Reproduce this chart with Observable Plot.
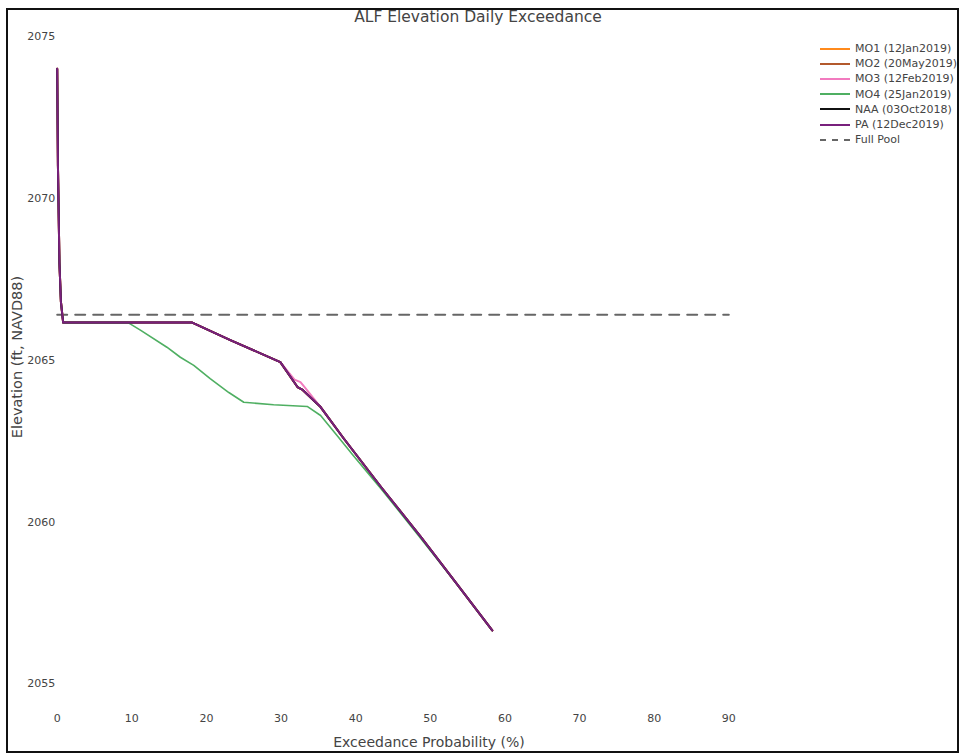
<!DOCTYPE html>
<html>
<head>
<meta charset="utf-8">
<script src="https://cdn.jsdelivr.net/npm/d3@7"></script>
<script src="https://cdn.jsdelivr.net/npm/@observablehq/plot@0.6"></script>
<style>
  html, body { margin: 0; padding: 0; background: #fff; }
  #wrap { position: relative; width: 962px; height: 754px; overflow: hidden; font-family: "DejaVu Sans", Verdana, sans-serif; color: #444; }
  #chart { position: absolute; left: 0; top: 0; }
  #title { position: absolute; left: 0; width: 956px; top: 8px; text-align: center; font-size: 15.5px; color: #444; }
  #xlabel { position: absolute; left: 229px; width: 400px; top: 734px; text-align: center; font-size: 14px; color: #444; }
  #ylabel { position: absolute; left: 17px; top: 357px; transform: translate(-50%, -50%) rotate(-90deg); white-space: nowrap; font-size: 14.5px; color: #444; }
  #legend { position: absolute; left: 819px; top: 41px; font-size: 11px; color: #444; }
  #legend .row { height: 15.2px; display: flex; align-items: center; white-space: nowrap; }
  #legend svg { margin-right: 4px; }
  #frame { position: absolute; left: 6px; top: 8px; width: 953px; height: 745px; border: 2px solid #111; box-sizing: border-box; pointer-events: none; }
</style>
</head>
<body>
<div id="wrap">
  <div id="chart"></div>
  <div id="title">ALF Elevation Daily Exceedance</div>
  <div id="xlabel">Exceedance Probability (%)</div>
  <div id="ylabel">Elevation (ft, NAVD88)</div>
  <div id="legend"></div>
  <div id="frame"></div>
</div>
<script>
// ---- data ----
const xTicks = [0, 10, 20, 30, 40, 50, 60, 70, 80, 90];
const yTicks = [2055, 2060, 2065, 2070, 2075];

const seriesNames = ["MO1 (12Jan2019)", "MO2 (20May2019)", "MO3 (12Feb2019)", "MO4 (25Jan2019)", "NAA (03Oct2018)", "PA (12Dec2019)"];
const seriesColors = ["#ff8a1c", "#b3592c", "#f27bbf", "#4faf62", "#111111", "#78207c"];

const mo1X = [0, 0.1, 0.3, 0.5, 0.8, 9.5, 18.1, 23.2, 29.9, 32.2, 32.9, 35.3, 38.4, 43.5, 48.7, 53.5, 58.3];
const mo1Y = [2074.0, 2071.0, 2068.0, 2066.8, 2066.16, 2066.16, 2066.16, 2065.62, 2064.94, 2064.17, 2064.08, 2063.55, 2062.58, 2061.05, 2059.55, 2058.1, 2056.65];
const mo2X = [0, 0.1, 0.3, 0.5, 0.8, 9.5, 18.1, 23.2, 29.9, 32.2, 32.9, 35.3, 38.4, 43.5, 48.7, 53.5, 58.3];
const mo2Y = [2074.0, 2071.0, 2068.0, 2066.8, 2066.16, 2066.16, 2066.16, 2065.62, 2064.94, 2064.17, 2064.08, 2063.55, 2062.58, 2061.05, 2059.55, 2058.1, 2056.65];
const mo3X = [0, 0.1, 0.3, 0.5, 0.8, 9.5, 18.1, 23.2, 29.9, 31.8, 32.6, 33.1, 35.3, 38.4, 43.5, 48.7, 53.5, 58.3];
const mo3Y = [2074.0, 2071.0, 2068.0, 2066.8, 2066.16, 2066.16, 2066.16, 2065.62, 2064.94, 2064.4, 2064.32, 2064.18, 2063.55, 2062.58, 2061.05, 2059.55, 2058.1, 2056.65];
const mo4X = [0, 0.1, 0.3, 0.5, 0.8, 9.5, 11.2, 14.7, 16.5, 18.3, 20.5, 23.0, 25.0, 29.0, 33.5, 35.3, 37.5, 39.7, 43.5, 48.7, 53.5, 58.3];
const mo4Y = [2074.0, 2071.0, 2068.0, 2066.8, 2066.16, 2066.16, 2065.92, 2065.4, 2065.09, 2064.84, 2064.43, 2064.0, 2063.7, 2063.62, 2063.57, 2063.29, 2062.67, 2062.05, 2061.0, 2059.5, 2058.1, 2056.65];
const naaX = [0, 0.1, 0.3, 0.5, 0.8, 9.5, 18.1, 23.2, 29.9, 32.2, 32.9, 35.3, 38.4, 43.5, 48.7, 53.5, 58.3];
const naaY = [2074.0, 2071.0, 2068.0, 2066.8, 2066.16, 2066.16, 2066.16, 2065.62, 2064.94, 2064.17, 2064.08, 2063.55, 2062.58, 2061.05, 2059.55, 2058.1, 2056.65];
const paX = [0, 0.1, 0.3, 0.5, 0.8, 9.5, 18.1, 23.2, 29.9, 32.2, 32.9, 35.3, 38.4, 43.5, 48.7, 53.5, 58.3];
const paY = [2074.0, 2071.0, 2068.0, 2066.8, 2066.16, 2066.16, 2066.16, 2065.62, 2064.94, 2064.17, 2064.08, 2063.55, 2062.58, 2061.05, 2059.55, 2058.1, 2056.65];

const fullPoolName = "Full Pool";
const fullPoolX = [0, 90];
const fullPoolY = [2066.4, 2066.4];

// ---- build tables ----
const seriesX = [mo1X, mo2X, mo3X, mo4X, naaX, paX];
const seriesY = [mo1Y, mo2Y, mo3Y, mo4Y, naaY, paY];
const rows = [];
seriesNames.forEach((name, i) => {
  seriesX[i].forEach((x, j) => rows.push({series: name, x, y: seriesY[i][j]}));
});
const poolRows = fullPoolX.map((x, j) => ({x, y: fullPoolY[j]}));

const lineMarks = seriesNames.map((name, i) =>
  Plot.line(rows.filter(d => d.series === name), {
    x: "x", y: "y", stroke: seriesColors[i],
    strokeWidth: name.startsWith("MO4") ? 1.6 : 2, curve: "linear"
  })
);

const chart = Plot.plot({
  width: 962,
  height: 754,
  marginLeft: 56.7,
  marginRight: 233.7,
  marginTop: 19.8,
  marginBottom: 54.5,
  style: {fontFamily: "DejaVu Sans, Verdana, sans-serif", fontSize: "11px", color: "#444", background: "transparent"},
  x: {domain: [0, 90], label: null},
  y: {domain: [2054.5, 2075.5], label: null},
  marks: [
    Plot.axisX({ticks: xTicks, tickSize: 0, tickPadding: 14, label: null, tickFormat: d => String(d)}),
    Plot.axisY({ticks: yTicks, tickSize: 0, tickPadding: 2, label: null, tickFormat: d => String(d)}),
    Plot.line(poolRows, {x: "x", y: "y", stroke: "#666", strokeWidth: 2, strokeDasharray: "10,8"}),
    ...lineMarks
  ]
});
document.getElementById("chart").appendChild(chart);

// ---- legend ----
const legend = document.getElementById("legend");
const legendItems = seriesNames.map((n, i) => ({name: n, color: seriesColors[i], dash: null}))
  .concat([{name: fullPoolName, color: "#666", dash: "6,6"}]);
legendItems.forEach(item => {
  const row = document.createElement("div");
  row.className = "row";
  row.innerHTML = `<svg width="32" height="10"><line x1="1" x2="31" y1="5" y2="5" stroke="${item.color}" stroke-width="2" ${item.dash ? `stroke-dasharray="${item.dash}"` : ""}/></svg><span>${item.name}</span>`;
  legend.appendChild(row);
});
</script>
</body>
</html>
